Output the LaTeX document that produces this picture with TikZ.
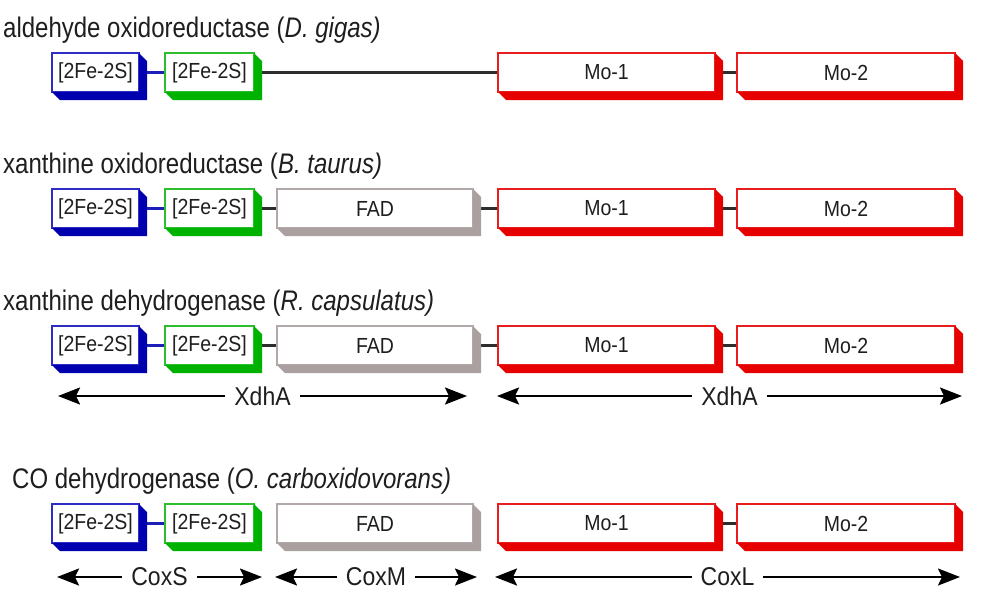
\documentclass[tikz,border=0pt]{standalone}
\usepackage{graphicx}
\usepackage{fontspec}
\setmainfont{Liberation Sans}
\usetikzlibrary{calc,arrows.meta,backgrounds}
\definecolor{txt}{RGB}{30,30,30}
\definecolor{linkc}{RGB}{45,45,45}
\definecolor{blueedge}{RGB}{45,45,195}
\definecolor{bluedark}{RGB}{0,0,175}
\definecolor{blueline}{RGB}{30,30,185}
\definecolor{greenedge}{RGB}{45,190,45}
\definecolor{greendark}{RGB}{0,178,0}
\definecolor{rededge}{RGB}{232,30,30}
\definecolor{reddark}{RGB}{230,0,0}
\definecolor{grayedge}{RGB}{178,168,168}
\definecolor{graydark}{RGB}{170,160,160}
\newcommand\tallA[1]{\scalebox{1}[1.18]{#1}}
\newcommand\tallB[1]{\scalebox{1}[1.12]{#1}}
\tikzset{
  box/.style={draw=#1edge, fill=white, line width=1.6pt, minimum height=39pt,
    anchor=north west, inner sep=0pt, outer sep=0pt,
    font=\fontsize{19.5}{19.5}\selectfont, text=txt},
  titletext/.style={anchor=base west, inner sep=0pt,
    font=\fontsize{24}{24}\selectfont, text=txt},
  link/.style={line width=2.2pt, draw=#1},
  span/.style={line width=2.2pt, draw=black,
    {Stealth[length=22pt,width=17pt,inset=4pt]}-{Stealth[length=22pt,width=17pt,inset=4pt]}},
  spanlbl/.style={fill=white, inner xsep=9pt, inner ysep=2pt,
    font=\fontsize{23}{23}\selectfont, text=txt}
}
\newcommand\mybox[6]{%
  \node[box=#2, minimum width=#5pt] (#1) at (#3,#4) {\tallB{#6}};
  \fill[#2dark] (#1.south west) -- ++(8,8) -| ($(#1.north east)+(8,8)$)
    -- (#1.north east) -- (#1.south east) -- cycle;
}
\begin{document}
\begin{tikzpicture}[x=1pt,y=-1pt]
\useasboundingbox (0,0) rectangle (984,598);
% titles
\node[titletext] (t1) at (3,37) {\tallA{aldehyde oxidoreductase (\textit{D. gigas)}}};
\node[titletext] (t2) at (3,173) {\tallA{xanthine oxidoreductase (\textit{B. taurus)}}};
\node[titletext] (t3) at (3,310) {\tallA{xanthine dehydrogenase (\textit{R. capsulatus)}}};
\node[titletext] (t4) at (12,488) {\tallA{CO dehydrogenase (\textit{O. carboxidovorans)}}};
% row 1
\mybox{b1}{blue}{52}{53}{87}{[2Fe-2S]}
\mybox{g1}{green}{165}{53}{89}{[2Fe-2S]}
\mybox{ma1}{red}{498}{53}{217}{Mo-1}
\mybox{mb1}{red}{737}{53}{218}{Mo-2}
% row 2
\mybox{b2}{blue}{52}{189}{87}{[2Fe-2S]}
\mybox{g2}{green}{165}{189}{89}{[2Fe-2S]}
\mybox{f2}{gray}{277}{189}{196}{FAD}
\mybox{ma2}{red}{498}{189}{217}{Mo-1}
\mybox{mb2}{red}{737}{189}{218}{Mo-2}
% row 3
\mybox{b3}{blue}{52}{326}{87}{[2Fe-2S]}
\mybox{g3}{green}{165}{326}{89}{[2Fe-2S]}
\mybox{f3}{gray}{277}{326}{196}{FAD}
\mybox{ma3}{red}{498}{326}{217}{Mo-1}
\mybox{mb3}{red}{737}{326}{218}{Mo-2}
% row 4
\mybox{b4}{blue}{52}{504}{87}{[2Fe-2S]}
\mybox{g4}{green}{165}{504}{89}{[2Fe-2S]}
\mybox{f4}{gray}{277}{504}{196}{FAD}
\mybox{ma4}{red}{498}{504}{217}{Mo-1}
\mybox{mb4}{red}{737}{504}{218}{Mo-2}
% links
\begin{scope}[on background layer]
  \draw[link=blueline] (b1) -- (g1);
  \draw[link=linkc] (g1) -- (ma1);
  \draw[link=linkc] (ma1) -- (mb1);
  \draw[link=blueline] (b2) -- (g2);
  \draw[link=linkc] (g2) -- (f2);
  \draw[link=linkc] (f2) -- (ma2);
  \draw[link=linkc] (ma2) -- (mb2);
  \draw[link=blueline] (b3) -- (g3);
  \draw[link=linkc] (g3) -- (f3);
  \draw[link=linkc] (f3) -- (ma3);
  \draw[link=linkc] (ma3) -- (mb3);
  \draw[link=blueline] (b4) -- (g4);
  \draw[link=linkc] (ma4) -- (mb4);
\end{scope}
% spans
\coordinate (a3l) at (58,396);
\coordinate (a3r) at (467,396);
\coordinate (c3l) at (497,396);
\coordinate (c3r) at (962,396);
\coordinate (s4l) at (57,577);
\coordinate (s4r) at (262,577);
\coordinate (m4l) at (275,577);
\coordinate (m4r) at (477,577);
\coordinate (l4l) at (495,577);
\coordinate (l4r) at (960,577);
\draw[span] (a3l) -- (a3r) node[spanlbl, midway] (x1) {\tallB{XdhA}};
\draw[span] (c3l) -- (c3r) node[spanlbl, midway] (x2) {\tallB{XdhA}};
\draw[span] (s4l) -- (s4r) node[spanlbl, midway] (x3) {\tallB{CoxS}};
\draw[span] (m4l) -- (m4r) node[spanlbl, midway] (x4) {\tallB{CoxM}};
\draw[span] (l4l) -- (l4r) node[spanlbl, midway] (x5) {\tallB{CoxL}};
\end{tikzpicture}
\end{document}
